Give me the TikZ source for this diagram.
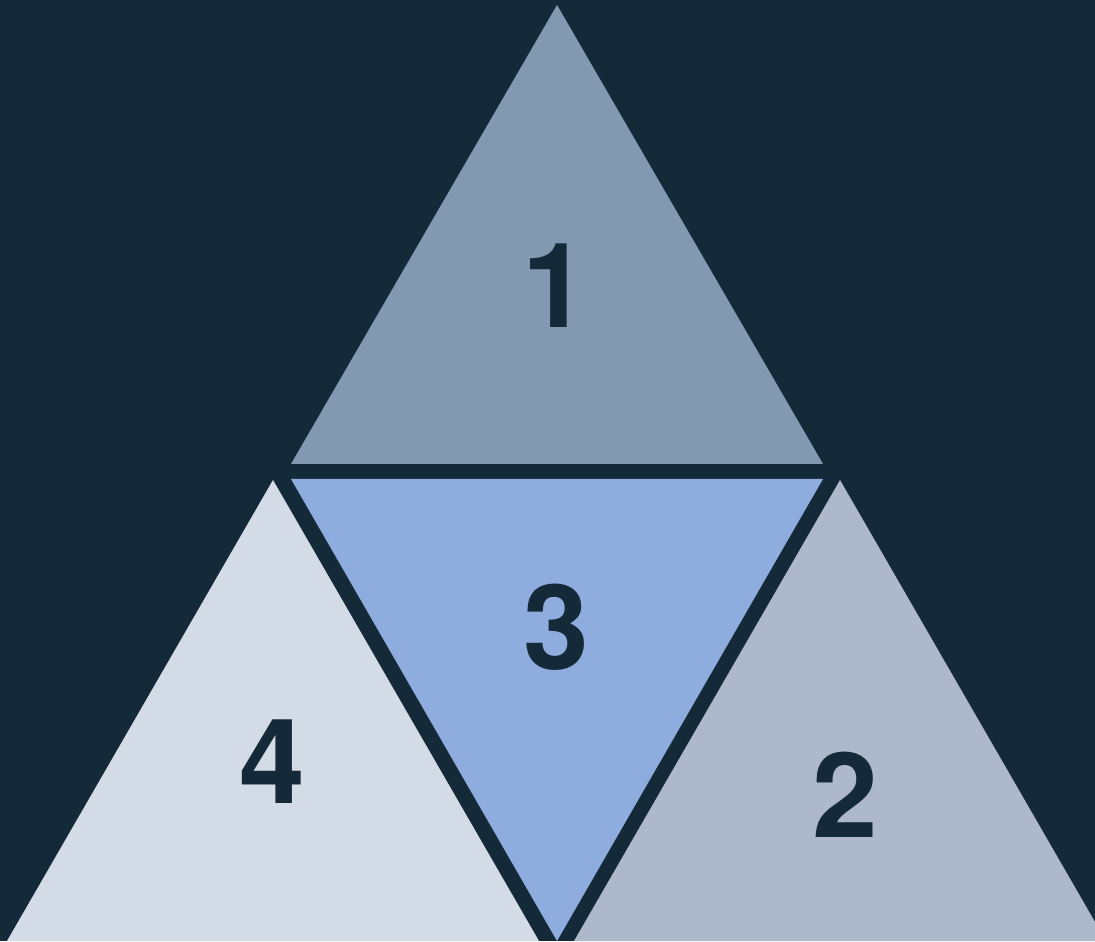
\documentclass[tikz,border=0pt]{standalone}
\usepackage{fontspec}
\setmainfont{TeX Gyre Heros}
\usepackage{tikz}
\usetikzlibrary{positioning,calc}
\definecolor{tnavy}{HTML}{152A38}
\definecolor{tslate}{HTML}{8398B1}
\definecolor{tblue}{HTML}{8FACDE}
\definecolor{tmist}{HTML}{D3DBE6}
\definecolor{tsteel}{HTML}{ADB9CB}
\tikzset{
  tri/.style={draw=none},
  num/.style={text=tnavy,inner sep=0pt,font=\fontsize{33.6}{40}\selectfont\bfseries},
}

\begin{document}
\begin{tikzpicture}
  \fill[tnavy] (0,0) rectangle (10.95,9.41);
  \useasboundingbox (0,0) rectangle (10.95,9.41);
  \clip (0,0) rectangle (10.95,9.41);
  \fill[tri,tslate] (5.57,9.36) -- (8.23,4.77) -- (2.91,4.77) -- cycle;
  \fill[tri,tblue] (2.91,4.62) -- (8.23,4.62) -- (5.57,0) -- cycle;
  \fill[tri,tmist] (2.73,4.61) -- (5.39,0) -- (0.07,0) -- cycle;
  \fill[tri,tsteel] (8.40,4.61) -- (11.06,0) -- (5.74,0) -- cycle;
  \node[num] (n1) at (5.55,6.55) {1};
  \node[num] (n3) at (5.56,3.135) {3};
  \node[num] (n4) at (2.72,1.79) {4};
  \node[num] (n2) at (8.45,1.46) {2};
\end{tikzpicture}
\end{document}
